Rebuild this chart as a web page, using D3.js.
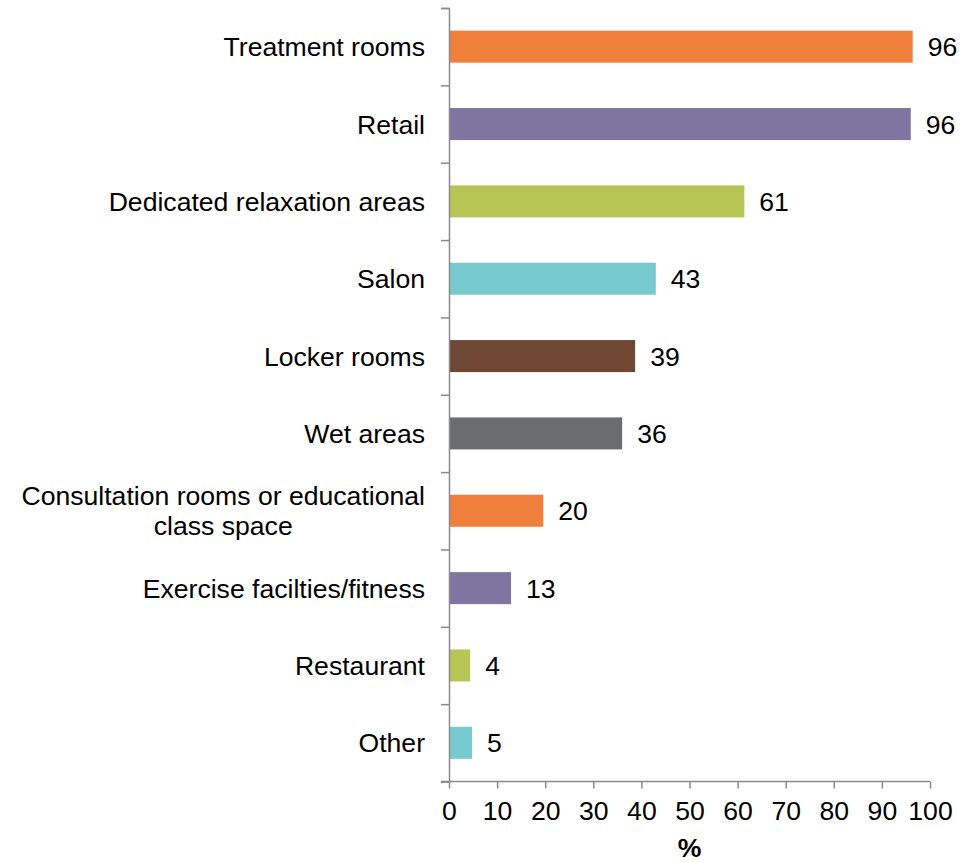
<!DOCTYPE html>
<html>
<head>
<meta charset="utf-8">
<script src="https://cdn.jsdelivr.net/npm/d3@7"></script>
<style>
  html, body { margin: 0; padding: 0; background: #fff; }
  svg { display: block; font-family: "Liberation Sans", Arial, sans-serif; }
</style>
</head>
<body>
<svg id="chart" width="978" height="863"></svg>
<script>
// Spa facility types offered (% of respondents)
const categories = [
  "Treatment rooms",
  "Retail",
  "Dedicated relaxation areas",
  "Salon",
  "Locker rooms",
  "Wet areas",
  "Consultation rooms or educational\nclass space",
  "Exercise facilties/fitness",
  "Restaurant",
  "Other"
];
const values = [96.4, 96.0, 61.4, 43.0, 38.7, 36.0, 19.6, 12.9, 4.4, 4.8];
const barColors = ["#F07F3C", "#7E75A0", "#B5C654", "#77CACD", "#704734",
                   "#6C6D71", "#F07F3C", "#7E75A0", "#B5C654", "#77CACD"];
const xTicks = [0, 10, 20, 30, 40, 50, 60, 70, 80, 90, 100];
const xTitle = "%";

(function draw() {
  const svg = d3.select("#chart");
  const plotLeft = 449, plotRight = 930, plotTop = 8, plotBottom = 781.5;
  const axisColor = "#8a8a8a";
  const fontSize = 26.6;

  const x = d3.scaleLinear().domain([0, 100]).range([plotLeft, plotRight]);
  const y = d3.scaleBand().domain(categories).range([plotTop, plotBottom])
    .paddingInner(0.586).paddingOuter(0.293);

  // Bars
  svg.append("g").selectAll("rect")
    .data(categories)
    .join("rect")
    .attr("x", x(0) + 1)
    .attr("y", d => y(d))
    .attr("width", (d, i) => x(values[i]) - x(0) - 1)
    .attr("height", y.bandwidth())
    .attr("fill", (d, i) => barColors[i]);

  // Value labels
  svg.append("g").selectAll("text")
    .data(categories)
    .join("text")
    .attr("x", (d, i) => x(values[i]) + 15)
    .attr("y", d => y(d) + y.bandwidth() / 2)
    .attr("dy", "0.36em")
    .attr("font-size", fontSize)
    .attr("fill", "#000")
    .text((d, i) => d3.format(".0f")(values[i]));

  // Category axis: ticks at the band boundaries
  const boundary = d3.scaleLinear().domain([0, categories.length]).range([plotTop, plotBottom]);
  const yAxis = svg.append("g")
    .attr("transform", `translate(${plotLeft},0)`)
    .call(d3.axisLeft(boundary).ticks(categories.length).tickFormat("").tickSize(8).tickSizeOuter(8));
  yAxis.selectAll("path, line").attr("stroke", axisColor).attr("stroke-width", 1.5);

  // Category labels (multi-line labels are centred within their block)
  const labelRight = 425;
  const lineH = 30;
  const catG = svg.append("g").attr("font-size", fontSize).attr("fill", "#000");
  categories.forEach(c => {
    const lines = c.split("\n");
    const cy = y(c) + y.bandwidth() / 2;
    const t = catG.append("text");
    if (lines.length === 1) {
      t.attr("x", labelRight).attr("y", cy).attr("dy", "0.36em")
        .attr("text-anchor", "end").text(c);
    } else {
      // measure the widest line, then centre each line under it
      const probe = catG.append("text");
      let maxW = 0;
      lines.forEach(l => { probe.text(l); maxW = Math.max(maxW, probe.node().getComputedTextLength()); });
      probe.remove();
      const cx = labelRight - maxW / 2;
      t.attr("text-anchor", "middle");
      lines.forEach((l, k) => {
        t.append("tspan")
          .attr("x", cx)
          .attr("y", cy + (k - (lines.length - 1) / 2) * lineH)
          .attr("dy", "0.36em")
          .text(l);
      });
    }
  });

  // Value axis
  const xAxis = svg.append("g")
    .attr("transform", `translate(0,${plotBottom})`)
    .call(d3.axisBottom(x).tickValues(xTicks).tickSize(7).tickSizeOuter(0).tickPadding(0));
  xAxis.select(".domain").attr("stroke", axisColor).attr("stroke-width", 1.5)
    .attr("d", `M${plotLeft - 8},0H${plotRight}`);
  xAxis.selectAll(".tick line").attr("stroke", axisColor).attr("stroke-width", 1.5);
  xAxis.selectAll(".tick text")
    .attr("font-size", fontSize)
    .attr("font-family", "'Liberation Sans', Arial, sans-serif")
    .attr("fill", "#000")
    .attr("y", 38.5)
    .attr("dy", 0);

  // Axis title
  svg.append("text")
    .attr("x", (plotLeft + plotRight) / 2)
    .attr("y", 857)
    .attr("text-anchor", "middle")
    .attr("font-size", fontSize)
    .attr("font-weight", "bold")
    .attr("fill", "#000")
    .text(xTitle);
})();
</script>
</body>
</html>
